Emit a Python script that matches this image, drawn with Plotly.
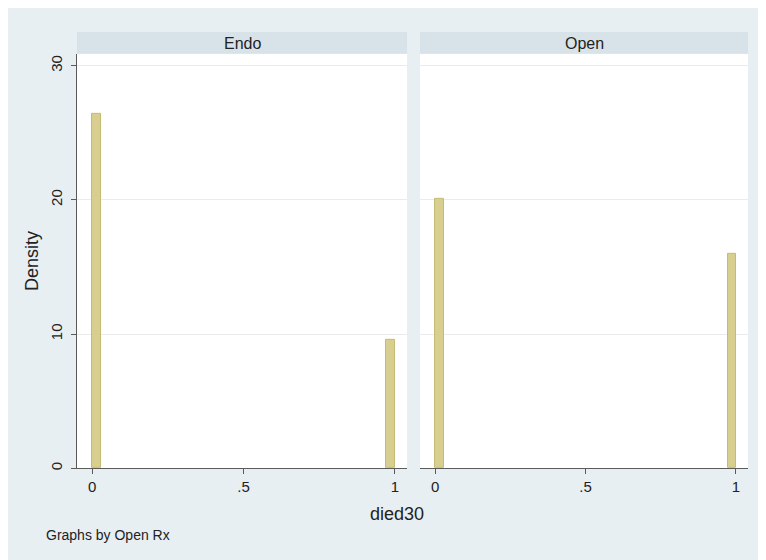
import math
import plotly.graph_objects as go

# ---- data ----
groups = ["Endo", "Open"]
values = [0, 1]                       # died30 categories
density = {"Endo": [26.4, 9.6], "Open": [20.1, 16.0]}
n_bins = 36
x_min, x_max = 0.0, 1.0
x_ticks = [0, 0.5, 1]
x_tick_labels = ["0", ".5", "1"]
y_ticks = [0, 10, 20, 30]
y_tick_labels = ["0", "10", "20", "30"]

OFF = 8                      # page body margin
W, H = 766 - OFF, 560 - OFF
def px(x): return (x - OFF) / W
def py(y): return 1 - (y - OFF) / H

bw = (x_max - x_min) / n_bins
def bin_left(v):
    k = min(int(math.floor((v - x_min) / bw + 1e-9)), n_bins - 1)
    return x_min + k * bw

FONT = "Liberation Sans, Arial, Helvetica, sans-serif"
fig = go.Figure()
bar_fill = "#d7ce8f"
bar_line = "#c6bb72"
for i, g in enumerate(groups):
    lefts = [bin_left(v) for v in values]
    fig.add_trace(go.Bar(
        x=[l + bw / 2 for l in lefts], y=density[g], width=[bw] * len(lefts),
        marker=dict(color=bar_fill, line=dict(color=bar_line, width=1)),
        xaxis="x" if i == 0 else "x2", yaxis="y" if i == 0 else "y2",
        showlegend=False, hoverinfo="skip"))

x_doms = [[px(77), px(407)], [px(420), px(748)]]
y_dom = [py(470), py(54)]
xr = [-0.0505, 1.04]
yr = [0, 30.88]
axis_col = "#5a5a5a"
tick_font = dict(family=FONT, size=15, color="#222222")

common_x = dict(range=xr, tickvals=x_ticks, ticktext=x_tick_labels, showline=True,
                linecolor=axis_col, linewidth=1, ticks="outside", ticklen=5,
                tickcolor=axis_col, showgrid=False, zeroline=False, tickfont=tick_font,
                fixedrange=True)
fig.update_layout(
    width=W, height=H, margin=dict(l=0, r=0, t=0, b=0),
    paper_bgcolor="#e8eff2", plot_bgcolor="white", bargap=0,
    xaxis=dict(domain=x_doms[0], anchor="y", **common_x),
    xaxis2=dict(domain=x_doms[1], anchor="y2", **common_x),
    yaxis=dict(domain=y_dom, anchor="x", range=yr, tickvals=y_ticks, ticktext=y_tick_labels,
               tickangle=-90, showline=True, linecolor=axis_col, linewidth=1,
               ticks="outside", ticklen=5, tickcolor=axis_col, showgrid=True,
               gridcolor="#ebebeb", gridwidth=1, zeroline=False, tickfont=tick_font,
               ticklabelstandoff=3),
    yaxis2=dict(domain=y_dom, anchor="x2", range=yr, tickvals=y_ticks, showticklabels=False,
                showline=False, ticks="", showgrid=True, gridcolor="#ebebeb", gridwidth=1,
                zeroline=False),
)

shapes = []
annotations = []
for i, g in enumerate(groups):
    shapes.append(dict(type="rect", xref="paper", yref="paper", x0=x_doms[i][0], x1=x_doms[i][1],
                       y0=py(54), y1=py(32), fillcolor="#d8e3e9", line=dict(width=0)))
    annotations.append(dict(text=g, xref="paper", yref="paper", x=(x_doms[i][0] + x_doms[i][1]) / 2,
                            y=py(43.5), showarrow=False, xanchor="center", yanchor="middle",
                            font=dict(family=FONT, size=16, color="#222222")))
annotations += [
    dict(text="Density", xref="paper", yref="paper", x=px(32), y=py(262), textangle=-90,
         showarrow=False, xanchor="center", yanchor="middle",
         font=dict(family=FONT, size=18, color="#222222")),
    dict(text="died30", xref="paper", yref="paper", x=px(397), y=py(516),
         showarrow=False, xanchor="center", yanchor="middle",
         font=dict(family=FONT, size=18, color="#222222")),
    dict(text="Graphs by Open Rx", xref="paper", yref="paper", x=px(44), y=py(537),
         showarrow=False, xanchor="left", yanchor="middle",
         font=dict(family=FONT, size=14, color="#222222")),
]
fig.update_layout(shapes=shapes, annotations=annotations)
fig.write_html("out.html")
